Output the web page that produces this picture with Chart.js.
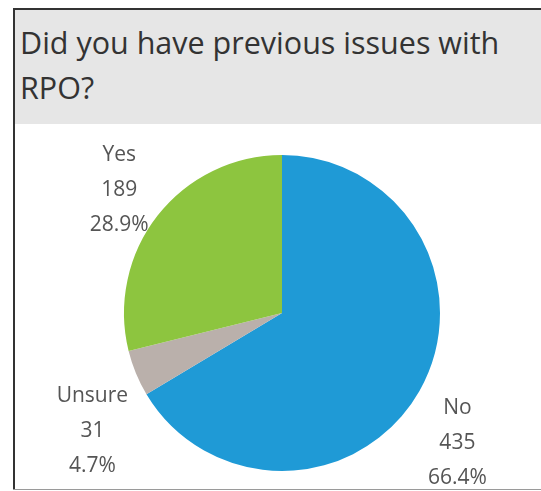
<!DOCTYPE html>
<html>
<head>
<meta charset="utf-8">
<script src="https://cdn.jsdelivr.net/npm/chart.js@4.4.1/dist/chart.umd.min.js"></script>
<style>
  html, body { margin: 0; padding: 0; background: #ffffff; }
  body { width: 541px; height: 491px; position: relative; overflow: hidden; }
  #header {
    position: absolute; left: 15px; top: 10px; width: 526px; height: 114px;
    background: #e6e6e6;
  }
  #title {
    position: absolute; left: 5px; top: 10px;
    font-family: "Open Sans", sans-serif; font-size: 30.5px; line-height: 45px;
    color: #333333; white-space: nowrap;
  }
  #topline { position: absolute; left: 13px; top: 8px; width: 528px; height: 2px; background: #333; }
  #leftline { position: absolute; left: 13px; top: 8px; width: 2px; height: 482px; background: #333; }
  #bottomline { position: absolute; left: 13px; top: 489px; width: 528px; height: 1px; background: #9a9a9a; }
  #wrap { position: absolute; left: 0; top: 0; width: 541px; height: 491px; }
</style>
</head>
<body>
<div id="header"><div id="title">Did you have previous issues with<br>RPO?</div></div>
<div id="topline"></div>
<div id="leftline"></div>
<div id="bottomline"></div>
<div id="wrap"><canvas id="c" width="541" height="491"></canvas></div>
<script>
const categories = ["No", "Unsure", "Yes"];
const counts = [435, 31, 189];
const percentLabels = ["66.4%", "4.7%", "28.9%"];
const colors = ["#1f9ad6", "#bab0ab", "#8dc53f"];

// label block placement, relative to the pie centre in radius units
const labelOffsets = {
  "No":     [1.11, 0.82],
  "Unsure": [-1.20, 0.75],
  "Yes":    [-1.03, -0.78]
};

const labelPlugin = {
  id: 'sliceLabels',
  afterDatasetsDraw(chart) {
    const ctx = chart.ctx;
    const meta = chart.getDatasetMeta(0);
    ctx.save();
    ctx.font = '21px "Open Sans", sans-serif';
    ctx.fillStyle = '#555555';
    ctx.textAlign = 'center';
    ctx.textBaseline = 'middle';
    meta.data.forEach((arc, i) => {
      const r = arc.outerRadius;
      const off = labelOffsets[categories[i]];
      const cx = arc.x + off[0] * r;
      const cy = arc.y + off[1] * r;
      const lines = [categories[i], String(counts[i]), percentLabels[i]];
      const lh = 35;
      lines.forEach((t, k) => {
        ctx.fillText(t, cx, cy + (k - 1) * lh);
      });
    });
    ctx.restore();
  }
};

new Chart(document.getElementById('c'), {
  type: 'pie',
  data: {
    labels: categories,
    datasets: [{
      data: counts,
      backgroundColor: colors,
      borderWidth: 0
    }]
  },
  options: {
    responsive: false,
    animation: false,
    layout: { padding: { top: 155, bottom: 20, left: 124, right: 101 } },
    plugins: { legend: { display: false }, tooltip: { enabled: false } }
  },
  plugins: [labelPlugin]
});
</script>
</body>
</html>
